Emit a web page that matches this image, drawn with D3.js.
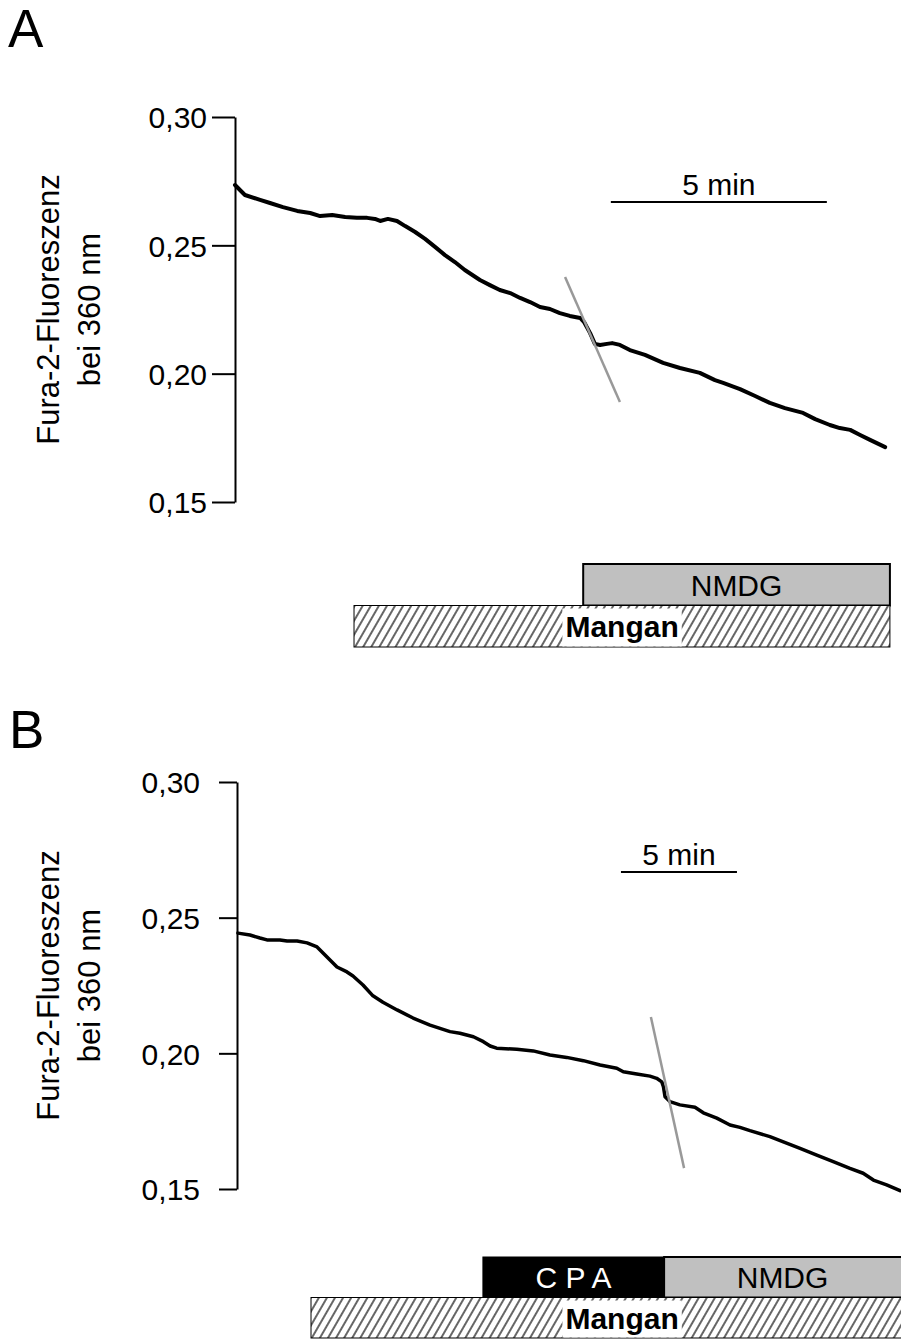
<!DOCTYPE html>
<html><head><meta charset="utf-8">
<script src="https://cdn.jsdelivr.net/npm/d3@7"></script>
<style>
html,body{margin:0;padding:0;background:#fff;}
text{font-family:"Liberation Sans",Arial,sans-serif;}
</style></head>
<body>
<svg id="chart" width="901" height="1340"></svg>
<script>
// ---------- Data ----------
const yTicks = [0.15, 0.20, 0.25, 0.30];
const yLabel1 = "Fura-2-Fluoreszenz";
const yLabel2 = "bei 360 nm";

// Panel A trace: time (min), ratio value
const timeA = [0,0.23,0.58,0.81,1.11,1.44,1.74,1.97,2.25,2.55,2.82,3.06,3.24,3.36,3.54,3.75,3.94,4.17,4.40,4.63,4.86,5.09,5.32,5.67,5.90,6.13,6.37,6.60,6.83,7.06,7.29,7.52,7.75,7.99,8.08,8.22,8.33,8.45,8.61,8.73,8.91,9.14,9.49,9.91,10.30,10.76,11.11,11.30,11.69,12.04,12.38,12.73,13.15,13.43,13.77,14.00,14.24,14.47,14.70,15.05];
const valueA = [0.2735,0.2696,0.2677,0.2665,0.2649,0.2634,0.2626,0.2614,0.2618,0.2610,0.2607,0.2607,0.2603,0.2595,0.2603,0.2595,0.2575,0.2552,0.2525,0.2494,0.2462,0.2435,0.2404,0.2365,0.2345,0.2326,0.2314,0.2295,0.2279,0.2260,0.2252,0.2236,0.2225,0.2217,0.2201,0.2158,0.2116,0.2112,0.2116,0.2119,0.2112,0.2092,0.2073,0.2042,0.2022,0.2003,0.1975,0.1964,0.1940,0.1913,0.1886,0.1866,0.1847,0.1823,0.1800,0.1788,0.1781,0.1761,0.1742,0.1714];
const slopeA = [[7.64,0.2377],[8.91,0.1890]];
const scaleBarA = [8.70, 13.70];
const barsA = [
  {label:"NMDG", start:8.06, end:15.16, row:0, kind:"grey"},
  {label:"Mangan", start:2.755, end:15.16, row:1, kind:"hatch", labelAt:8.96}
];

// Panel B trace
const timeB = [0.04,0.56,0.99,1.29,1.85,2.16,2.59,3.02,3.45,3.88,4.31,4.74,5.00,5.43,5.86,6.29,6.90,7.59,8.32,9.18,9.61,10.19,10.62,10.91,11.19,12.06,12.77,13.49,14.21,14.93,15.65,16.37,16.65,17.23,17.80,18.09,18.31,18.38,18.45,18.66,19.09,19.74,20.10,20.68,21.25,21.68,22.11,22.97,23.55,24.27,24.99,25.70,26.42,26.99,27.43,28.00,28.58];
const valueB = [0.2443,0.2436,0.2425,0.2418,0.2418,0.2414,0.2414,0.2407,0.2392,0.2355,0.2318,0.2300,0.2285,0.2252,0.2212,0.2188,0.2160,0.2130,0.2104,0.2080,0.2074,0.2061,0.2043,0.2027,0.2019,0.2015,0.2009,0.1994,0.1985,0.1973,0.1957,0.1945,0.1932,0.1924,0.1916,0.1908,0.1895,0.1877,0.1840,0.1822,0.1810,0.1801,0.1781,0.1761,0.1736,0.1727,0.1715,0.1693,0.1674,0.1650,0.1625,0.1601,0.1576,0.1558,0.1533,0.1515,0.1494];
const slopeB = [[17.84,0.2134],[19.27,0.1577]];
const scaleBarB = [16.55, 21.55];
const barsB = [
  {label:"C P A", start:10.60, end:18.41, row:0, kind:"black"},
  {label:"NMDG", start:18.41, end:29.5, row:0, kind:"grey"},
  {label:"Mangan", start:3.19, end:29.5, row:1, kind:"hatch", labelAt:16.6}
];

// ---------- Drawing ----------
const svg = d3.select("#chart");
const defs = svg.append("defs");
const pat = defs.append("pattern").attr("id","hatch").attr("patternUnits","userSpaceOnUse")
  .attr("width",7).attr("height",7).attr("patternTransform","rotate(30)");
pat.append("rect").attr("width",7).attr("height",7).attr("fill","#fff");
pat.append("line").attr("x1",1).attr("y1",0).attr("x2",1).attr("y2",7).attr("stroke","#000").attr("stroke-width",1.2);

const fmt = d => d3.format(".2f")(d).replace(".", ",");

function panel(cfg){
  const g = svg.append("g");
  const x = d3.scaleLinear().domain([0,10]).range([cfg.x0, cfg.x0 + 10*cfg.pxPerMin]);
  const y = d3.scaleLinear().domain([0.15,0.30]).range([cfg.yBottom, cfg.yTop]);

  g.append("text").attr("x",cfg.letterX).attr("y",cfg.letterY).attr("font-size",53).text(cfg.letter);

  const ax = g.append("g").attr("transform",`translate(${cfg.x0},0)`)
    .call(d3.axisLeft(y).tickValues(yTicks).tickFormat(fmt).tickSize(cfg.tickSize).tickSizeOuter(0).tickPadding(cfg.tickPad));
  ax.select(".domain").attr("stroke","#000").attr("stroke-width",2);
  ax.selectAll(".tick line").attr("stroke","#000").attr("stroke-width",2);
  ax.selectAll(".tick text").attr("font-size",30).attr("fill","#000")
    .attr("font-family","Liberation Sans, Arial, sans-serif").attr("dy","0.36em");

  const cy = (cfg.yTop + cfg.yBottom)/2;
  g.append("text").attr("transform",`translate(59,${cy}) rotate(-90)`).attr("text-anchor","middle")
    .attr("font-size",31).text(yLabel1);
  g.append("text").attr("transform",`translate(100,${cy}) rotate(-90)`).attr("text-anchor","middle")
    .attr("font-size",31).text(yLabel2);

  const pts = cfg.time.map((t,i)=>[t,cfg.value[i]]);
  g.append("path").datum(pts).attr("fill","none").attr("stroke","#000")
    .attr("stroke-width",cfg.lw).attr("stroke-linejoin","round").attr("stroke-linecap","round")
    .attr("d", d3.line().x(d=>x(d[0])).y(d=>y(d[1])));

  g.append("path").datum(cfg.slope).attr("fill","none").attr("stroke","#999").attr("stroke-width",2.5)
    .attr("d", d3.line().x(d=>x(d[0])).y(d=>y(d[1])));

  g.append("line").attr("x1",x(cfg.scaleBar[0])).attr("x2",x(cfg.scaleBar[1]))
    .attr("y1",cfg.scaleY).attr("y2",cfg.scaleY).attr("stroke","#000").attr("stroke-width",2);
  g.append("text").attr("x",(x(cfg.scaleBar[0])+x(cfg.scaleBar[1]))/2).attr("y",cfg.scaleY-7)
    .attr("text-anchor","middle").attr("font-size",30).text("5 min");

  cfg.bars.forEach(b=>{
    const top = cfg.barTop + b.row*cfg.barH;
    const x1 = x(b.start), x2 = x(b.end);
    const fill = b.kind==="grey" ? "#c0c0c0" : b.kind==="black" ? "#000" : "url(#hatch)";
    g.append("rect").attr("x",x1).attr("y",top).attr("width",x2-x1).attr("height",cfg.barH)
      .attr("fill",fill).attr("stroke","#000").attr("stroke-width", b.kind==="grey"?2:1);
    if(b.kind==="hatch"){
      const cx = x(b.labelAt);
      const t = g.append("text").attr("x",cx).attr("y",top+cfg.barH/2).attr("dy","0.36em")
        .attr("text-anchor","middle").attr("font-size",30).attr("font-weight","bold").text(b.label);
      const w = t.node().getComputedTextLength();
      g.insert("rect", () => t.node()).attr("x",cx-w/2-3).attr("y",top+3).attr("width",w+6).attr("height",cfg.barH-3.5).attr("fill","#fff");
    } else {
      g.append("text").attr("x",(x1+Math.min(x2,901))/2).attr("y",top+cfg.barH/2).attr("dy","0.36em")
        .attr("text-anchor","middle").attr("font-size",30)
        .attr("fill", b.kind==="black" ? "#fff" : "#000").text(b.label);
    }
  });
}

panel({letter:"A", letterX:8, letterY:47, x0:235, pxPerMin:43.2, yTop:117, yBottom:502,
  tickSize:23, tickPad:5, time:timeA, value:valueA, slope:slopeA, lw:4,
  scaleBar:scaleBarA, scaleY:202, bars:barsA, barTop:564, barH:41.5});
panel({letter:"B", letterX:9, letterY:748, x0:237, pxPerMin:23.2, yTop:782, yBottom:1189,
  tickSize:18, tickPad:19, time:timeB, value:valueB, slope:slopeB, lw:3.5,
  scaleBar:scaleBarB, scaleY:872, bars:barsB, barTop:1257, barH:40.5});
</script>
</body></html>
